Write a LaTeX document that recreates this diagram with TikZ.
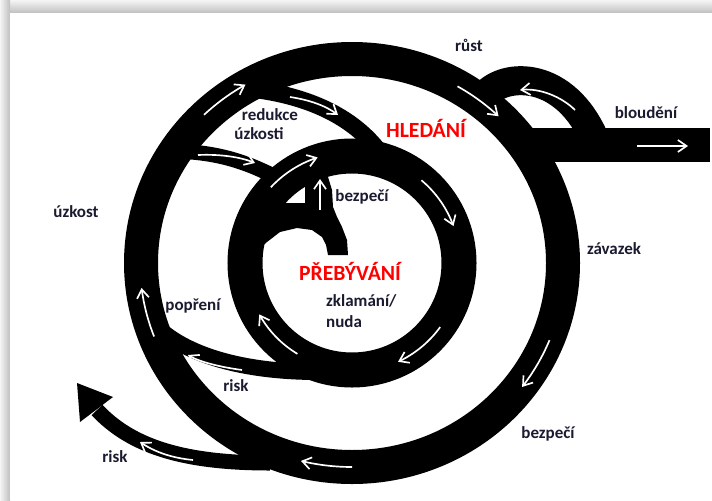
\documentclass[tikz,border=0pt]{standalone}
\usepackage{fontspec}
\setmainfont{Carlito}
\usetikzlibrary{arrows.meta}
\definecolor{lbltext}{HTML}{1A1A30}
\definecolor{ttlred}{HTML}{FF0000}
\begin{document}
\begin{tikzpicture}[x=0.03cm,y=-0.03cm,
  warr/.style={draw=white,line width=0.05cm,-{Straight Barb[length=0.26cm,width=0.36cm]}},
  lbl/.style={font=\fontsize{14.5}{16}\selectfont\bfseries,text=lbltext,inner sep=0pt},
  ttl/.style={font=\fontsize{18.5}{20}\selectfont\bfseries,text=ttlred,inner sep=0pt},
  band/.style={draw=black,line width=#1}]
\useasboundingbox (0,0) rectangle (712,500);
% frame
\shade[top color=gray!8,bottom color=gray!50] (0,0) rectangle (712,13);
\shade[left color=gray!8,right color=gray!50] (0,0) rectangle (10,500);
\fill[white] (10,13) rectangle (712,500);
% rings
\draw[band=1.02cm] (352,263) ellipse[x radius=211,y radius=204];
\draw[band=1.05cm] (352,263) circle[radius=107];
% branches
\draw[band=0.51cm] (240,88) .. controls (290,92) and (345,108) .. (378,150);
\draw[band=0.45cm] (172,151) .. controls (215,152) and (245,160) .. (285,182);
\draw[band=0.48cm] (163,332) .. controls (195,358) and (250,372) .. (318,372);
% loop and bar
\draw[band=0.87cm] (485,95) .. controls (505,72) and (565,70) .. (595,140);
\draw[band=1.02cm] (525,145) -- (710,145);
% outgoing risk arrow
\draw[band=0.45cm] (270,463) .. controls (180,463) and (130,445) .. (97,410);
\fill[black] (77,383) -- (113,397) -- (80,422) -- cycle;
% inner tail
\fill[black] (258,250) -- (267,242) -- (280,232) -- (297,228) -- (312,230) -- (322,237)
  -- (326,245) -- (328,255) -- (348,255) -- (347,240) -- (342,227) -- (337,217)
  -- (333,207) -- (332,190) -- (328,177) -- (325,168) -- (305,168) -- (305,203)
  -- (282,203) -- (268,212) -- (255,240) -- cycle;
% white arrows on outer ring
\draw[warr] plot[domain=226:240,samples=20] ({352+213*cos(\x)},{263+206*sin(\x)});
\draw[warr] plot[domain=300:314,samples=20] ({352+211*cos(\x)},{263+204*sin(\x)});
\draw[warr] plot[domain=22:37,samples=20] ({352+213*cos(\x)},{263+206*sin(\x)});
\draw[warr] plot[domain=90:104,samples=20] ({352+211*cos(\x)},{263+204*sin(\x)});
\draw[warr] plot[domain=159:173,samples=20] ({352+212*cos(\x)},{263+205*sin(\x)});
% white arrows on inner ring
\draw[warr] plot[domain=223:252,samples=20] ({352+111*cos(\x)},{263+111*sin(\x)});
\draw[warr] plot[domain=310:340,samples=20] ({352+108*cos(\x)},{263+108*sin(\x)});
\draw[warr] plot[domain=36:65,samples=20] ({352+109*cos(\x)},{263+109*sin(\x)});
\draw[warr] plot[domain=121:151,samples=20] ({352+106*cos(\x)},{263+106*sin(\x)});
% other white arrows
\draw[warr] (320,210) -- (320,179);
\draw[warr] (290,97) .. controls (310,100) and (326,106) .. (338,115);
\draw[warr] (198,155) .. controls (220,154) and (240,157) .. (255,163);
\draw[warr] (242,370) .. controls (220,367) and (200,362) .. (188,355);
\draw[warr] (193,460) .. controls (172,458) and (155,452) .. (140,442);
\draw[warr] (575,110) .. controls (562,97) and (540,88) .. (520,90);
\draw[warr] (637,146) -- (688,146);
% labels
\node[lbl] (rust) at (469,45) {růst};
\node[lbl] (bloudeni) at (646,113) {bloudění};
\node[ttl] (hledani) at (426,128) {HLEDÁNÍ};
\node[lbl] (redukce) at (270,115) {redukce};
\node[lbl] (uzkosti) at (259,134) {úzkosti};
\node[lbl] (uzkost) at (76,212) {úzkost};
\node[lbl] (bezpecia) at (362,197) {bezpečí};
\node[lbl] (zavazek) at (614,249) {závazek};
\node[ttl] (prebyvani) at (350,271) {PŘEBÝVÁNÍ};
\node[lbl,anchor=west] (zklamani) at (326,301) {zklamání/};
\node[lbl,anchor=west] (nuda) at (326,322) {nuda};
\node[lbl] (popreni) at (193,306) {popření};
\node[lbl] (riska) at (236,386) {risk};
\node[lbl] (riskb) at (115,457) {risk};
\node[lbl] (bezpecib) at (548,434) {bezpečí};
\end{tikzpicture}
\end{document}
